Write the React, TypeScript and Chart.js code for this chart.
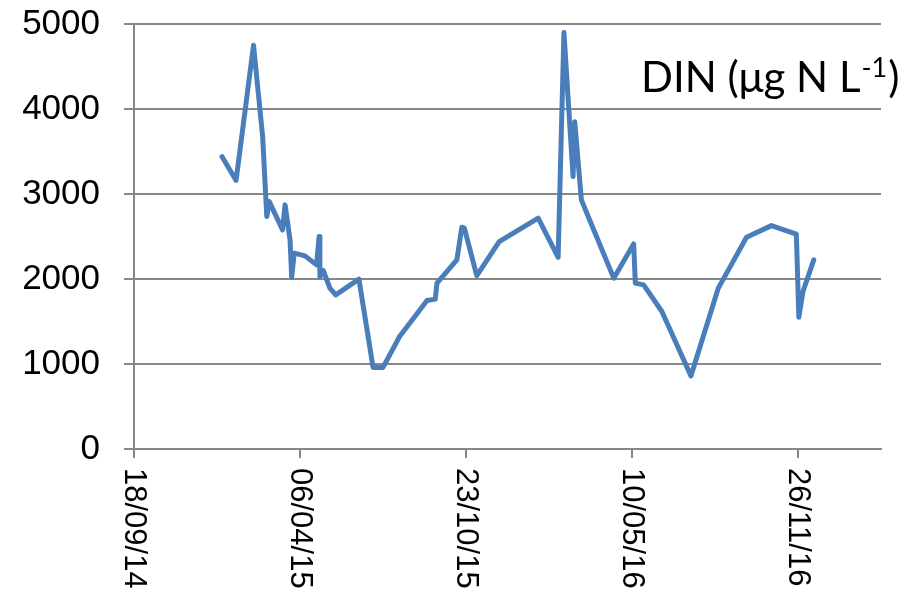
import React, { useEffect, useRef } from "react";
import { Chart, registerables } from "chart.js";

Chart.register(...registerables);

// Axis origin date (first tick) and tick spacing, in days
const originDate = "2014-09-18";
const xTickDays = [0, 200, 400, 600, 800];
const xMaxDays = 900;
const yTicks = [0, 1000, 2000, 3000, 4000, 5000];

// Sample dates
const sampleDates = [
  "2015-01-02", "2015-01-19", "2015-02-09", "2015-02-20", "2015-02-25",
  "2015-02-28", "2015-03-16", "2015-03-19", "2015-03-25", "2015-03-27",
  "2015-03-30", "2015-04-12", "2015-04-26", "2015-04-29", "2015-04-30",
  "2015-05-04", "2015-05-12", "2015-05-19", "2015-06-16", "2015-07-03",
  "2015-07-15", "2015-08-04", "2015-09-06", "2015-09-16", "2015-09-18",
  "2015-10-12", "2015-10-18", "2015-10-21", "2015-11-05", "2015-12-02",
  "2016-01-18", "2016-02-11", "2016-02-18", "2016-02-29", "2016-03-02",
  "2016-03-10", "2016-03-20", "2016-04-18", "2016-05-12", "2016-05-14",
  "2016-05-24", "2016-06-15", "2016-07-20", "2016-08-22", "2016-09-25",
  "2016-10-25", "2016-11-24", "2016-11-27", "2016-12-02", "2016-12-15",
];

// DIN values (µg N L-1)
const dinValues = [
  3440, 3160, 4750, 3675, 2734,
  2911, 2578, 2872, 2460, 2020,
  2304, 2272, 2166, 2499, 2030,
  2100, 1893, 1814, 1998, 960,
  960, 1324, 1747, 1763, 1951,
  2225, 2610, 2598, 2040, 2440,
  2715, 2255, 4900, 3205, 3851,
  2931, 2695, 2010, 2413, 1951,
  1931, 1618, 860, 1893, 2492,
  2628, 2527, 1550, 1853, 2225,
];

const titleMain = "DIN (\u03bcg N L";
const titleSup = "-1";
const titleEnd = ")";

const DAY = 86400000;
const toDays = (s: string) => {
  const [y, m, d] = s.split("-").map(Number);
  const [oy, om, od] = originDate.split("-").map(Number);
  return Math.round((Date.UTC(y, m - 1, d) - Date.UTC(oy, om - 1, od)) / DAY);
};
const fmtDays = (n: number) => {
  const [oy, om, od] = originDate.split("-").map(Number);
  const dt = new Date(Date.UTC(oy, om - 1, od) + n * DAY);
  const p = (v: number) => String(v).padStart(2, "0");
  return `${p(dt.getUTCDate())}/${p(dt.getUTCMonth() + 1)}/${p(dt.getUTCFullYear() % 100)}`;
};

const GRID = "#888888";
const LINE = "#4A7EBB";

export default function App() {
  const ref = useRef<HTMLCanvasElement | null>(null);

  useEffect(() => {
    document.body.style.margin = "0";
    const canvas = ref.current;
    if (!canvas) return;

    const points = sampleDates.map((d, i) => ({ x: toDays(d), y: dinValues[i] }));

    const overlay = {
      id: "overlay",
      afterDraw(chart: any) {
        const ctx = chart.ctx as CanvasRenderingContext2D;
        const xs = chart.scales.x;
        // rotated x labels (reading top-to-bottom)
        ctx.save();
        ctx.fillStyle = "#000";
        ctx.font = '31px "Liberation Sans", Arial, sans-serif';
        ctx.textAlign = "left";
        ctx.textBaseline = "middle";
        for (const v of xTickDays) {
          const px = xs.getPixelForValue(v);
          ctx.save();
          ctx.translate(px, xs.top + 19);
          ctx.rotate(Math.PI / 2);
          ctx.fillText(fmtDays(v), 0, 0);
          ctx.restore();
        }
        ctx.restore();

        // title text in plot
        ctx.save();
        ctx.fillStyle = "#000";
        ctx.textBaseline = "alphabetic";
        ctx.textAlign = "left";
        const fs = 42;
        const x0 = 641;
        const base = 92;
        ctx.font = `${fs}px Lato, "Open Sans", sans-serif`;
        ctx.fillText(titleMain, x0, base);
        let x = x0 + ctx.measureText(titleMain).width;
        ctx.font = `${Math.round(fs * 0.65)}px Lato, "Open Sans", sans-serif`;
        ctx.fillText(titleSup, x + 1, base - fs * 0.36);
        x += ctx.measureText(titleSup).width + 2;
        ctx.font = `${fs}px Lato, "Open Sans", sans-serif`;
        ctx.fillText(titleEnd, x, base);
        ctx.restore();
      },
    };

    const chart = new Chart(canvas, {
      type: "line",
      data: {
        datasets: [
          {
            data: points,
            borderColor: LINE,
            backgroundColor: LINE,
            borderWidth: 5,
            borderJoinStyle: "round",
            borderCapStyle: "round",
            pointRadius: 0,
            tension: 0,
            fill: false,
          },
        ],
      },
      options: {
        animation: false,
        responsive: false,
        devicePixelRatio: 1,
        layout: { padding: { left: 0, right: 35, top: 24, bottom: 0 } },
        plugins: {
          legend: { display: false },
          tooltip: { enabled: false },
          title: { display: false },
        },
        scales: {
          x: {
            type: "linear",
            min: 0,
            max: xMaxDays,
            afterBuildTicks: (s: any) => {
              s.ticks = xTickDays.map((v) => ({ value: v }));
            },
            afterFit: (s: any) => {
              s.height = 598 - 449;
              s.paddingLeft = 0;
              s.paddingRight = 0;
            },
            ticks: { display: false },
            grid: {
              display: true,
              drawOnChartArea: false,
              drawTicks: true,
              tickLength: 9,
              color: GRID,
              lineWidth: 2,
            },
            border: { display: true, color: GRID, width: 2 },
          },
          y: {
            type: "linear",
            min: 0,
            max: 5000,
            afterBuildTicks: (s: any) => {
              s.ticks = yTicks.map((v) => ({ value: v }));
            },
            afterFit: (s: any) => {
              s.width = 134;
              s.paddingTop = 0;
              s.paddingBottom = 0;
            },
            ticks: {
              color: "#000",
              padding: 24,
              font: { family: '"Liberation Sans", Arial, sans-serif', size: 35 },
              callback: (v: any) => String(v),
            },
            grid: {
              color: GRID,
              lineWidth: 2,
              drawTicks: true,
              tickLength: 10,
            },
            border: { display: true, color: GRID, width: 2 },
          },
        },
      },
      plugins: [overlay],
    } as any);

    return () => chart.destroy();
  }, []);

  return (
    <div style={{ position: "fixed", left: 0, top: 0, width: 916, height: 598, background: "#fff" }}>
      <canvas ref={ref} width={916} height={598} style={{ width: 916, height: 598, display: "block" }} />
    </div>
  );
}
